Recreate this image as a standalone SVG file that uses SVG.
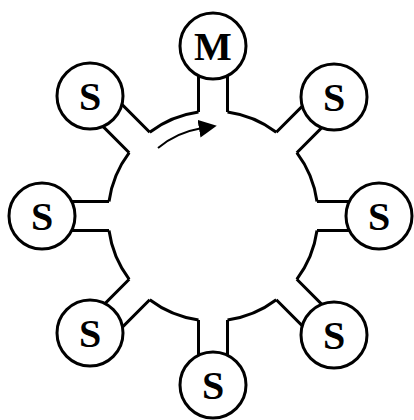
<svg xmlns="http://www.w3.org/2000/svg" width="414" height="420" viewBox="0 0 414 420">
<style>
.ln{fill:none;stroke:#000;stroke-width:3;stroke-linecap:butt}
.nd{fill:#fff;stroke:#000;stroke-width:3}
.lb{font-family:"Liberation Serif","Times New Roman",serif;font-weight:bold;font-size:40px;text-anchor:middle;fill:#000}
.ar{fill:none;stroke:#000;stroke-width:2}
</style>
<defs>
<marker id="ah" markerWidth="18" markerHeight="18" refX="1" refY="9" orient="auto" markerUnits="userSpaceOnUse" viewBox="0 0 18 18">
<path d="M0,0 L18,9 L0,18 Z" fill="#000"/>
</marker>
</defs>
<rect width="414" height="420" fill="#fff"/>
<g id="ring" class="ln">
<path d="M317,230.5 A105,105 0 0 1 296.79,279.29"/>
<path d="M276.29,299.79 A105,105 0 0 1 227.5,320"/>
<path d="M198.5,320 A105,105 0 0 1 149.71,299.79"/>
<path d="M129.21,279.29 A105,105 0 0 1 109,230.5"/>
<path d="M109,201.5 A105,105 0 0 1 129.21,152.71"/>
<path d="M149.71,132.21 A105,105 0 0 1 198.5,112"/>
<path d="M227.5,112 A105,105 0 0 1 276.29,132.21"/>
<path d="M296.79,152.71 A105,105 0 0 1 317,201.5"/>
</g>
<g id="connectors" class="ln">
<path d="M317,201.5 L363,201.5 M317,230.5 L363,230.5"/>
<path d="M276.29,299.79 L308.82,332.32 M296.79,279.29 L329.32,311.82"/>
<path d="M198.5,320 L198.5,366 M227.5,320 L227.5,366"/>
<path d="M129.21,279.29 L96.68,311.82 M149.71,299.79 L117.18,332.32"/>
<path d="M109,201.5 L63,201.5 M109,230.5 L63,230.5"/>
<path d="M149.71,132.21 L117.18,99.68 M129.21,152.71 L96.68,120.18"/>
<path d="M198.5,112 L198.5,66 M227.5,112 L227.5,66"/>
<path d="M296.79,152.71 L329.32,120.18 M276.29,132.21 L308.82,99.68"/>
</g>
<g id="arrow">
<path class="ar" d="M158,148 A88,88 0 0 1 200,128.5" marker-end="url(#ah)"/>
</g>
<g id="node-M"><circle class="nd" cx="213" cy="46" r="33"/><text class="lb" x="213" y="60">M</text></g>
<g id="node-S-topleft"><circle class="nd" cx="90" cy="96" r="33"/><text class="lb" x="90" y="110">S</text></g>
<g id="node-S-topright"><circle class="nd" cx="334" cy="97" r="33"/><text class="lb" x="334" y="111">S</text></g>
<g id="node-S-left"><circle class="nd" cx="42" cy="216" r="33"/><text class="lb" x="42" y="230">S</text></g>
<g id="node-S-right"><circle class="nd" cx="379" cy="216" r="33"/><text class="lb" x="379" y="230">S</text></g>
<g id="node-S-bottomleft"><circle class="nd" cx="90" cy="333" r="33"/><text class="lb" x="90" y="347">S</text></g>
<g id="node-S-bottomright"><circle class="nd" cx="334" cy="335" r="33"/><text class="lb" x="334" y="349">S</text></g>
<g id="node-S-bottom"><circle class="nd" cx="213" cy="385" r="33"/><text class="lb" x="213" y="399">S</text></g>
</svg>
